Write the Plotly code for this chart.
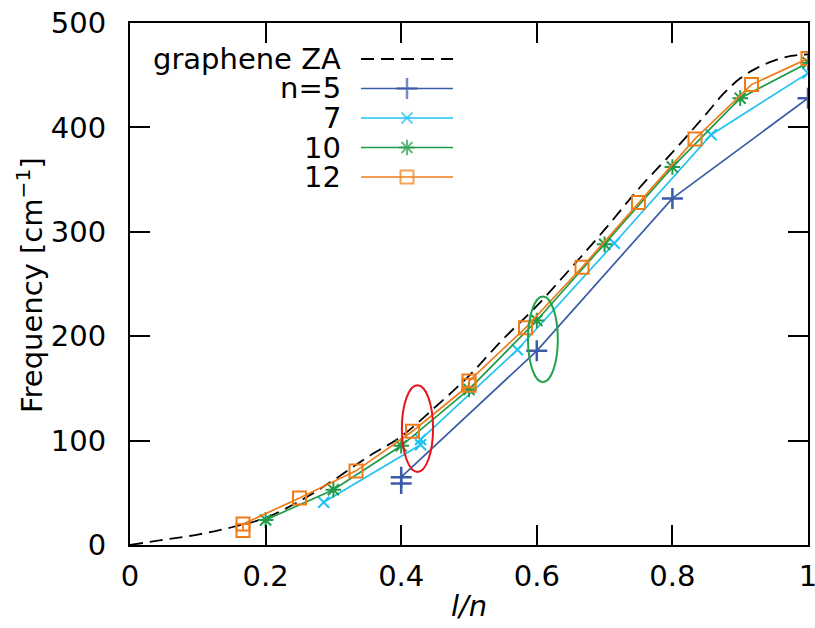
import plotly.graph_objects as go

# ---------------- data ----------------
x_tick_vals = [0, 0.2, 0.4, 0.6, 0.8, 1.0]
x_tick_text = ["0", "0.2", "0.4", "0.6", "0.8", "1"]
y_tick_vals = [0, 100, 200, 300, 400, 500]
y_tick_text = ["0", "100", "200", "300", "400", "500"]

graphene_x = [0.00, 0.05, 0.10, 0.15, 0.20, 0.25, 0.30, 0.35, 0.40, 0.45, 0.50,
              0.55, 0.60, 0.65, 0.70, 0.75, 0.80, 0.85, 0.875, 0.90, 0.925, 0.95, 0.975, 1.00]
graphene_y = [0, 5, 10, 17, 26, 42, 62, 84, 104, 132, 162,
              197, 229, 265, 302, 341, 376, 413, 432, 447, 457, 464, 468.5, 470]

n5_x = [0.4, 0.4, 0.6, 0.8, 1.0]
n5_y = [59, 65, 186, 332, 428]

n7_x = [2/7, 3/7, 3/7, 4/7, 5/7, 6/7, 1.0]
n7_y = [41, 96, 101, 187, 289, 393, 452]

n10_x = [0.2, 0.3, 0.4, 0.5, 0.6, 0.7, 0.8, 0.9, 1.0]
n10_y = [24, 53, 95, 149, 215, 288, 362, 428, 462]

n12_x = [1/6, 1/6, 0.25, 1/3, 5/12, 0.5, 0.5, 7/12, 2/3, 0.75, 5/6, 11/12, 1.0]
n12_y = [14, 20, 45, 71, 109, 153, 157, 208, 266, 328, 389, 441, 466]

legend_labels = ["graphene ZA", "n=5", "7", "10", "12"]

# ---------------- styles ----------------
FONT = "DejaVu Sans"
FS = 29
C_BLUE = "#3a5ba6"
C_CYAN = "#1fc2f2"
C_GREEN = "#1f9a48"
C_ORANGE = "#f07c18"

styles = [
    dict(color="black", dash="13px,7px", symbol=None, size=0, mw=0),
    dict(color=C_BLUE, dash="solid", symbol="cross-thin-open", size=15, mw=2.5),
    dict(color=C_CYAN, dash="solid", symbol="x-thin-open", size=11, mw=2),
    dict(color=C_GREEN, dash="solid", symbol="asterisk-open", size=13, mw=2),
    dict(color=C_ORANGE, dash="solid", symbol="square-open", size=13, mw=2),
]

fig = go.Figure()

fig.add_trace(go.Scatter(x=graphene_x, y=graphene_y, mode="lines",
                         line=dict(color="black", dash=styles[0]["dash"], width=1.8, shape="spline"),
                         showlegend=False, hoverinfo="skip"))

for (xs, ys), st in zip([(n5_x, n5_y), (n7_x, n7_y), (n10_x, n10_y), (n12_x, n12_y)], styles[1:]):
    fig.add_trace(go.Scatter(
        x=xs, y=ys, mode="lines+markers",
        line=dict(color=st["color"], width=1.7),
        marker=dict(symbol=st["symbol"], size=st["size"], color=st["color"],
                    line=dict(color=st["color"], width=st["mw"])),
        showlegend=False, hoverinfo="skip"))

# ---------------- custom legend (paper-fraction overlay axes) ----------------
L, R, T, B = 130, 808, 23, 545
W, H = R - L, B - T


def px2fx(px):
    return (px - L) / W


def py2fy(py):
    return (B - py) / H


row_y = [59, 88.5, 118, 147.5, 177]
for lab, st, ry in zip(legend_labels, styles, row_y):
    fy = py2fy(ry)
    fig.add_annotation(x=px2fx(343), y=fy, xref="paper", yref="paper",
                       text=lab, showarrow=False, xanchor="right", yanchor="middle",
                       font=dict(family=FONT, size=FS, color="black"))
    if st["symbol"] is None:
        fig.add_trace(go.Scatter(x=[px2fx(361), px2fx(453)], y=[fy, fy], mode="lines",
                                 xaxis="x2", yaxis="y2",
                                 line=dict(color="black", dash=st["dash"], width=1.8),
                                 showlegend=False, hoverinfo="skip"))
    else:
        fig.add_trace(go.Scatter(x=[px2fx(361), px2fx(407), px2fx(453)], y=[fy, fy, fy],
                                 mode="lines+markers", xaxis="x2", yaxis="y2",
                                 line=dict(color=st["color"], width=1.7),
                                 marker=dict(symbol=st["symbol"], size=[0, st["size"], 0],
                                             color=st["color"],
                                             line=dict(color=st["color"], width=st["mw"])),
                                 showlegend=False, hoverinfo="skip"))

# ---------------- ellipses ----------------
fig.add_shape(type="circle", xref="x", yref="y", x0=0.401, x1=0.447, y0=70, y1=153,
              line=dict(color="#e8141c", width=2))
fig.add_shape(type="circle", xref="x", yref="y", x0=0.587, x1=0.631, y0=156, y1=238,
              line=dict(color="#22a24a", width=2))

# ---------------- axis titles ----------------
fig.add_annotation(x=px2fx(469), y=py2fy(606), xref="paper", yref="paper",
                   text="<i>l/n</i>", showarrow=False, xanchor="center", yanchor="middle",
                   font=dict(family=FONT, size=FS, color="black"))
fig.add_annotation(x=px2fx(30), y=py2fy(285), xref="paper", yref="paper",
                   text="Frequency [cm<sup>−1</sup>]", showarrow=False, textangle=-90,
                   xanchor="center", yanchor="middle",
                   font=dict(family=FONT, size=FS, color="black"))

axis_common = dict(showline=True, linecolor="black", linewidth=2, mirror="ticks",
                   ticks="inside", ticklen=20, tickwidth=2, tickcolor="black",
                   showgrid=False, zeroline=False, automargin=False,
                   ticklabeloverflow="allow",
                   tickfont=dict(family=FONT, size=FS, color="black"))

fig.update_layout(
    width=815, height=628,
    margin=dict(l=L, r=815 - R, t=T, b=628 - B, autoexpand=False),
    paper_bgcolor="white", plot_bgcolor="white",
    showlegend=False,
    xaxis=dict(range=[0, 1], tickvals=x_tick_vals, ticktext=x_tick_text,
               ticklabelstandoff=4, **axis_common),
    yaxis=dict(range=[0, 500], tickvals=y_tick_vals, ticktext=y_tick_text,
               ticklabelstandoff=16, **axis_common),
    xaxis2=dict(range=[0, 1], overlaying="x", visible=False),
    yaxis2=dict(range=[0, 1], overlaying="y", visible=False),
    font=dict(family=FONT, size=FS, color="black"),
)

fig.write_html("out.html")
